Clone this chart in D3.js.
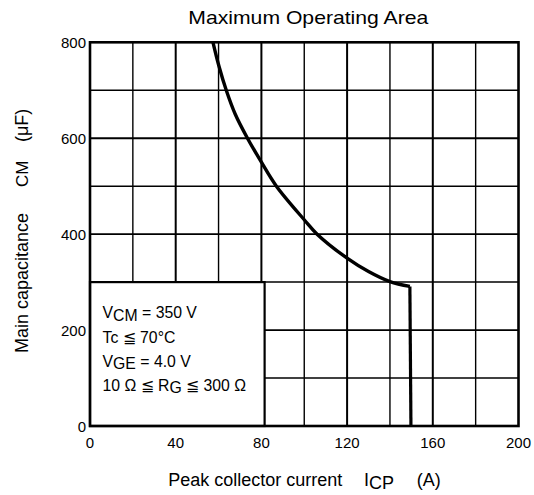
<!DOCTYPE html>
<html><head><meta charset="utf-8">
<script src="https://cdn.jsdelivr.net/npm/d3@7"></script>
<style>
html,body{margin:0;padding:0;background:#fff;}
text{font-family:"Liberation Sans",Arial,Helvetica,sans-serif;fill:#000;}
</style></head>
<body>
<svg id="chart" width="534" height="495"></svg>
<script>
// ---- data ----
const xTicks = [0, 40, 80, 120, 160, 200];
const yTicks = [0, 200, 400, 600, 800];
const xGrid = [20, 40, 60, 80, 100, 120, 140, 160, 180];
const yGrid = [100, 200, 300, 400, 500, 600, 700];
// boundary curve: peak collector current (A) vs main capacitance (uF)
const curveI = [57.4, 60.2, 63.6, 67.8, 73.5, 80, 87, 100, 106, 120, 130, 140, 149.3];
const curveC = [800, 750, 700, 650, 600, 550, 500, 430, 400, 350, 322, 301, 291];
const vertI = [149.3, 149.8];
const vertC = [291, 0];
// condition box (range in data units)
const boxI = [0, 81.5];
const boxC = [0, 300];
const conditions = [
  [["V",0],["CM",1],[" = 350 V",0]],
  [["Tc  \u2266 70\u00B0C",0]],
  [["V",0],["GE",1],[" = 4.0 V",0]],
  [["10 \u03A9 \u2266 R",0],["G",1],[" \u2266 300 \u03A9",0]]
];

const svg = d3.select("#chart");
const x = d3.scaleLinear().domain([0, 200]).range([90, 518.5]);
const y = d3.scaleLinear().domain([0, 800]).range([426, 42.3]);

// grid
const g = svg.append("g");
g.selectAll("line.vg").data(xGrid).enter().append("line")
  .attr("x1", d => x(d)).attr("x2", d => x(d))
  .attr("y1", y(0)).attr("y2", y(800))
  .attr("stroke", "#000").attr("stroke-width", d => d % 40 === 0 ? 2 : 1.4);
g.selectAll("line.hg").data(yGrid).enter().append("line")
  .attr("y1", d => y(d)).attr("y2", d => y(d))
  .attr("x1", x(0)).attr("x2", x(200))
  .attr("stroke", "#000").attr("stroke-width", d => d % 200 === 0 ? 1.8 : 1.5);

// condition box
svg.append("rect")
  .attr("x", x(boxI[0])).attr("y", y(boxC[1]))
  .attr("width", x(boxI[1]) - x(boxI[0])).attr("height", y(boxC[0]) - y(boxC[1]))
  .attr("fill", "#fff").attr("stroke", "#000").attr("stroke-width", 2.2);

// condition texts
const baselines = [318.3, 342.7, 366.7, 390.7];
conditions.forEach((parts, i) => {
  const t = svg.append("text").attr("x", 102.5).attr("y", baselines[i])
    .attr("font-size", 15.8);
  let prev = 0;
  parts.forEach(([s, sub]) => {
    const shift = sub ? 2.5 : 0;
    t.append("tspan").attr("dy", shift - prev).text(s);
    prev = shift;
  });
});

// curve
const pts = curveI.map((d, i) => [x(d), y(curveC[i])]);
svg.append("path").attr("d", d3.line().curve(d3.curveCatmullRom.alpha(0.5))(pts))
  .attr("fill", "none").attr("stroke", "#000").attr("stroke-width", 3.4)
  .attr("stroke-linejoin", "miter");
const vpts = vertI.map((d, i) => [x(d), y(vertC[i])]);
svg.append("path").attr("d", d3.line()(vpts))
  .attr("fill", "none").attr("stroke", "#000").attr("stroke-width", 3.2);

// frame
svg.append("rect").attr("x", x(0)).attr("y", y(800))
  .attr("width", x(200) - x(0)).attr("height", y(0) - y(800))
  .attr("fill", "none").attr("stroke", "#000").attr("stroke-width", 2.6);

// tick labels
svg.selectAll("text.yt").data(yTicks).enter().append("text")
  .attr("x", 86).attr("y", d => y(d) + 5.5).attr("text-anchor", "end")
  .attr("font-size", 15).text(d => d);
svg.selectAll("text.xt").data(xTicks).enter().append("text")
  .attr("x", d => x(d)).attr("y", 448).attr("text-anchor", "middle")
  .attr("font-size", 15).text(d => d);

// title
svg.append("text").attr("x", 308.3).attr("y", 24).attr("text-anchor", "middle")
  .attr("font-size", 18.5).attr("textLength", 240).attr("lengthAdjust", "spacingAndGlyphs")
  .text("Maximum Operating Area");

// x-axis label
svg.append("text").attr("x", 168.3).attr("y", 486).attr("font-size", 18).text("Peak collector current");
const ic = svg.append("text").attr("x", 364).attr("y", 486).attr("font-size", 18);
ic.append("tspan").text("I");
ic.append("tspan").attr("dy", 3).text("CP");
svg.append("text").attr("x", 416.7).attr("y", 486).attr("font-size", 18).text("(A)");

// y-axis label
[["Main capacitance", 353], ["CM", 187], ["(\u03BCF)", 142]].forEach(([s, yy]) => {
  svg.append("text").attr("transform", `translate(28.3,${yy}) rotate(-90)`)
    .attr("font-size", s === "CM" ? 17 : 18).text(s);
});
</script>
</body></html>
